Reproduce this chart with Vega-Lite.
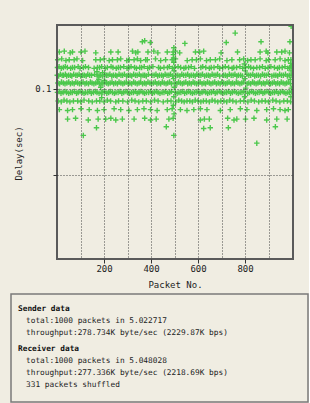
{
  "$schema": "https://vega.github.io/schema/vega-lite/v6.json",
  "background": "#f0ede2",
  "padding": {"left": 10, "top": 24, "right": 0, "bottom": 0},
  "spacing": 4,
  "config": {
    "view": {"stroke": null},
    "font": "DejaVu Sans Mono",
    "axis": {"labelFont": "DejaVu Sans Mono", "titleFont": "DejaVu Sans Mono", "labelFontSize": 9, "titleFontSize": 9, "titleFontWeight": "normal", "labelColor": "#222", "titleColor": "#222", "tickColor": "#333", "domain": false}
  },
  "datasets": {
    "pts": [
      {"n":996,"d":0.173},{"n":758,"d":0.165},{"n":363,"d":0.155},{"n":373,"d":0.156},{"n":397,"d":0.154},{"n":544,"d":0.153},{"n":720,"d":0.154},{"n":868,"d":0.155},{"n":991,"d":0.155},{"n":497,"d":0.148},
      {"n":10,"d":0.143},{"n":31,"d":0.144},{"n":56,"d":0.142},{"n":66,"d":0.143},{"n":102,"d":0.143},{"n":119,"d":0.144},{"n":165,"d":0.142},{"n":229,"d":0.143},{"n":260,"d":0.143},{"n":321,"d":0.144},{"n":335,"d":0.142},{"n":344,"d":0.143},{"n":387,"d":0.143},{"n":412,"d":0.144},{"n":429,"d":0.142},{"n":469,"d":0.143},{"n":494,"d":0.143},{"n":504,"d":0.144},{"n":522,"d":0.142},{"n":589,"d":0.143},{"n":607,"d":0.143},{"n":624,"d":0.144},{"n":698,"d":0.142},{"n":768,"d":0.143},{"n":864,"d":0.143},{"n":890,"d":0.144},{"n":897,"d":0.142},{"n":935,"d":0.143},{"n":956,"d":0.143},{"n":970,"d":0.144},{"n":989,"d":0.142},
      {"n":3,"d":0.134},{"n":20,"d":0.135},{"n":38,"d":0.133},{"n":52,"d":0.134},{"n":73,"d":0.134},{"n":85,"d":0.135},{"n":109,"d":0.133},{"n":165,"d":0.134},{"n":184,"d":0.134},{"n":200,"d":0.135},{"n":222,"d":0.133},{"n":236,"d":0.134},{"n":257,"d":0.134},{"n":271,"d":0.135},{"n":297,"d":0.133},{"n":307,"d":0.134},{"n":328,"d":0.134},{"n":342,"d":0.135},{"n":356,"d":0.133},{"n":377,"d":0.134},{"n":384,"d":0.134},{"n":419,"d":0.135},{"n":441,"d":0.133},{"n":462,"d":0.134},{"n":490,"d":0.134},{"n":504,"d":0.135},{"n":554,"d":0.133},{"n":575,"d":0.134},{"n":593,"d":0.134},{"n":610,"d":0.135},{"n":636,"d":0.133},{"n":652,"d":0.134},{"n":674,"d":0.134},{"n":692,"d":0.135},{"n":723,"d":0.133},{"n":744,"d":0.134},{"n":777,"d":0.134},{"n":794,"d":0.135},{"n":811,"d":0.133},{"n":825,"d":0.134},{"n":843,"d":0.134},{"n":864,"d":0.135},{"n":890,"d":0.133},{"n":900,"d":0.134},{"n":928,"d":0.134},{"n":949,"d":0.135},{"n":970,"d":0.133},{"n":984,"d":0.134},{"n":995,"d":0.134},
      {"n":2,"d":0.125},{"n":9,"d":0.126},{"n":18,"d":0.124},{"n":27,"d":0.125},{"n":35,"d":0.126},{"n":44,"d":0.125},{"n":58,"d":0.124},{"n":66,"d":0.125},{"n":75,"d":0.125},{"n":90,"d":0.126},{"n":98,"d":0.124},{"n":112,"d":0.125},{"n":121,"d":0.126},{"n":134,"d":0.125},{"n":158,"d":0.124},{"n":172,"d":0.125},{"n":181,"d":0.125},{"n":190,"d":0.126},{"n":205,"d":0.124},{"n":214,"d":0.125},{"n":230,"d":0.126},{"n":238,"d":0.125},{"n":252,"d":0.124},{"n":261,"d":0.125},{"n":270,"d":0.125},{"n":284,"d":0.126},{"n":298,"d":0.124},{"n":306,"d":0.125},{"n":315,"d":0.126},{"n":330,"d":0.125},{"n":338,"d":0.124},{"n":352,"d":0.125},{"n":360,"d":0.125},{"n":371,"d":0.126},{"n":386,"d":0.124},{"n":394,"d":0.125},{"n":408,"d":0.126},{"n":432,"d":0.125},{"n":440,"d":0.124},{"n":455,"d":0.125},{"n":470,"d":0.125},{"n":478,"d":0.126},{"n":491,"d":0.124},{"n":500,"d":0.125},{"n":515,"d":0.126},{"n":526,"d":0.125},{"n":540,"d":0.124},{"n":548,"d":0.125},{"n":560,"d":0.125},{"n":571,"d":0.126},{"n":585,"d":0.124},{"n":612,"d":0.125},{"n":620,"d":0.126},{"n":633,"d":0.125},{"n":648,"d":0.124},{"n":656,"d":0.125},{"n":668,"d":0.125},{"n":684,"d":0.126},{"n":692,"d":0.124},{"n":705,"d":0.125},{"n":716,"d":0.126},{"n":730,"d":0.125},{"n":745,"d":0.124},{"n":752,"d":0.125},{"n":764,"d":0.125},{"n":778,"d":0.126},{"n":790,"d":0.124},{"n":802,"d":0.125},{"n":815,"d":0.126},{"n":824,"d":0.125},{"n":836,"d":0.124},{"n":850,"d":0.125},{"n":862,"d":0.125},{"n":874,"d":0.126},{"n":886,"d":0.124},{"n":898,"d":0.125},{"n":910,"d":0.126},{"n":925,"d":0.125},{"n":938,"d":0.124},{"n":946,"d":0.125},{"n":958,"d":0.125},{"n":970,"d":0.126},{"n":982,"d":0.124},{"n":990,"d":0.125},{"n":997,"d":0.126},
      {"n":1,"d":0.116},{"n":7,"d":0.115},{"n":14,"d":0.117},{"n":22,"d":0.116},{"n":28,"d":0.116},{"n":36,"d":0.117},{"n":41,"d":0.115},{"n":49,"d":0.116},{"n":57,"d":0.116},{"n":63,"d":0.115},{"n":71,"d":0.117},{"n":80,"d":0.116},{"n":86,"d":0.116},{"n":94,"d":0.117},{"n":101,"d":0.115},{"n":109,"d":0.116},{"n":116,"d":0.116},{"n":124,"d":0.115},{"n":131,"d":0.117},{"n":139,"d":0.116},{"n":147,"d":0.116},{"n":160,"d":0.117},{"n":171,"d":0.115},{"n":179,"d":0.116},{"n":186,"d":0.116},{"n":194,"d":0.115},{"n":203,"d":0.117},{"n":210,"d":0.116},{"n":217,"d":0.116},{"n":225,"d":0.117},{"n":233,"d":0.115},{"n":240,"d":0.116},{"n":249,"d":0.116},{"n":255,"d":0.115},{"n":264,"d":0.117},{"n":272,"d":0.116},{"n":279,"d":0.116},{"n":287,"d":0.117},{"n":296,"d":0.115},{"n":303,"d":0.116},{"n":311,"d":0.116},{"n":318,"d":0.115},{"n":326,"d":0.117},{"n":334,"d":0.116},{"n":341,"d":0.116},{"n":350,"d":0.117},{"n":357,"d":0.115},{"n":366,"d":0.116},{"n":373,"d":0.116},{"n":380,"d":0.115},{"n":389,"d":0.117},{"n":404,"d":0.116},{"n":413,"d":0.116},{"n":421,"d":0.117},{"n":428,"d":0.115},{"n":436,"d":0.116},{"n":445,"d":0.116},{"n":452,"d":0.115},{"n":460,"d":0.117},{"n":468,"d":0.116},{"n":476,"d":0.116},{"n":483,"d":0.117},{"n":492,"d":0.115},{"n":506,"d":0.116},{"n":514,"d":0.116},{"n":523,"d":0.115},{"n":531,"d":0.117},{"n":539,"d":0.116},{"n":548,"d":0.116},{"n":556,"d":0.117},{"n":563,"d":0.115},{"n":571,"d":0.116},{"n":580,"d":0.116},{"n":588,"d":0.115},{"n":595,"d":0.117},{"n":604,"d":0.116},{"n":612,"d":0.116},{"n":619,"d":0.117},{"n":628,"d":0.115},{"n":636,"d":0.116},{"n":644,"d":0.116},{"n":651,"d":0.115},{"n":660,"d":0.117},{"n":668,"d":0.116},{"n":676,"d":0.116},{"n":683,"d":0.117},{"n":692,"d":0.115},{"n":708,"d":0.116},{"n":716,"d":0.116},{"n":724,"d":0.115},{"n":733,"d":0.117},{"n":741,"d":0.116},{"n":749,"d":0.116},{"n":757,"d":0.117},{"n":765,"d":0.115},{"n":772,"d":0.116},{"n":781,"d":0.116},{"n":789,"d":0.115},{"n":808,"d":0.117},{"n":816,"d":0.116},{"n":824,"d":0.116},{"n":833,"d":0.117},{"n":841,"d":0.115},{"n":849,"d":0.116},{"n":857,"d":0.116},{"n":866,"d":0.115},{"n":874,"d":0.117},{"n":882,"d":0.116},{"n":890,"d":0.116},{"n":899,"d":0.117},{"n":914,"d":0.115},{"n":923,"d":0.116},{"n":931,"d":0.116},{"n":939,"d":0.115},{"n":947,"d":0.117},{"n":955,"d":0.116},{"n":963,"d":0.116},{"n":972,"d":0.117},{"n":980,"d":0.115},{"n":988,"d":0.116},{"n":996,"d":0.116},
      {"n":4,"d":0.107},{"n":11,"d":0.106},{"n":19,"d":0.108},{"n":27,"d":0.107},{"n":34,"d":0.106},{"n":42,"d":0.107},{"n":50,"d":0.108},{"n":57,"d":0.106},{"n":65,"d":0.107},{"n":73,"d":0.106},{"n":80,"d":0.108},{"n":88,"d":0.107},{"n":96,"d":0.106},{"n":103,"d":0.107},{"n":111,"d":0.108},{"n":119,"d":0.106},{"n":126,"d":0.107},{"n":134,"d":0.106},{"n":142,"d":0.108},{"n":149,"d":0.107},{"n":157,"d":0.106},{"n":165,"d":0.107},{"n":172,"d":0.108},{"n":180,"d":0.106},{"n":188,"d":0.107},{"n":195,"d":0.106},{"n":203,"d":0.108},{"n":211,"d":0.107},{"n":218,"d":0.106},{"n":226,"d":0.107},{"n":234,"d":0.108},{"n":241,"d":0.106},{"n":249,"d":0.107},{"n":257,"d":0.106},{"n":264,"d":0.108},{"n":272,"d":0.107},{"n":280,"d":0.106},{"n":287,"d":0.107},{"n":295,"d":0.108},{"n":303,"d":0.106},{"n":310,"d":0.107},{"n":318,"d":0.106},{"n":326,"d":0.108},{"n":333,"d":0.107},{"n":341,"d":0.106},{"n":349,"d":0.107},{"n":356,"d":0.108},{"n":364,"d":0.106},{"n":372,"d":0.107},{"n":379,"d":0.106},{"n":387,"d":0.108},{"n":395,"d":0.107},{"n":402,"d":0.106},{"n":410,"d":0.107},{"n":418,"d":0.108},{"n":425,"d":0.106},{"n":433,"d":0.107},{"n":441,"d":0.106},{"n":448,"d":0.108},{"n":456,"d":0.107},{"n":464,"d":0.106},{"n":471,"d":0.107},{"n":479,"d":0.108},{"n":487,"d":0.106},{"n":502,"d":0.107},{"n":510,"d":0.106},{"n":517,"d":0.108},{"n":525,"d":0.107},{"n":533,"d":0.106},{"n":540,"d":0.107},{"n":548,"d":0.108},{"n":556,"d":0.106},{"n":563,"d":0.107},{"n":571,"d":0.106},{"n":579,"d":0.108},{"n":586,"d":0.107},{"n":594,"d":0.106},{"n":602,"d":0.107},{"n":609,"d":0.108},{"n":617,"d":0.106},{"n":625,"d":0.107},{"n":632,"d":0.106},{"n":640,"d":0.108},{"n":648,"d":0.107},{"n":655,"d":0.106},{"n":663,"d":0.107},{"n":671,"d":0.108},{"n":678,"d":0.106},{"n":686,"d":0.107},{"n":694,"d":0.106},{"n":701,"d":0.108},{"n":709,"d":0.107},{"n":717,"d":0.106},{"n":724,"d":0.107},{"n":732,"d":0.108},{"n":740,"d":0.106},{"n":747,"d":0.107},{"n":755,"d":0.106},{"n":763,"d":0.108},{"n":770,"d":0.107},{"n":778,"d":0.106},{"n":786,"d":0.107},{"n":793,"d":0.108},{"n":809,"d":0.106},{"n":816,"d":0.107},{"n":824,"d":0.106},{"n":832,"d":0.108},{"n":839,"d":0.107},{"n":847,"d":0.106},{"n":855,"d":0.107},{"n":862,"d":0.108},{"n":870,"d":0.106},{"n":878,"d":0.107},{"n":885,"d":0.106},{"n":893,"d":0.108},{"n":901,"d":0.107},{"n":908,"d":0.106},{"n":916,"d":0.107},{"n":924,"d":0.108},{"n":931,"d":0.106},{"n":939,"d":0.107},{"n":947,"d":0.106},{"n":954,"d":0.108},{"n":962,"d":0.107},{"n":970,"d":0.106},{"n":977,"d":0.107},{"n":985,"d":0.108},{"n":993,"d":0.106},
      {"n":2,"d":0.096},{"n":10,"d":0.097},{"n":17,"d":0.095},{"n":26,"d":0.096},{"n":34,"d":0.097},{"n":41,"d":0.096},{"n":50,"d":0.095},{"n":58,"d":0.096},{"n":65,"d":0.096},{"n":74,"d":0.097},{"n":83,"d":0.095},{"n":90,"d":0.096},{"n":98,"d":0.097},{"n":107,"d":0.096},{"n":115,"d":0.095},{"n":122,"d":0.096},{"n":131,"d":0.096},{"n":139,"d":0.097},{"n":146,"d":0.095},{"n":155,"d":0.096},{"n":163,"d":0.097},{"n":170,"d":0.096},{"n":179,"d":0.095},{"n":188,"d":0.096},{"n":195,"d":0.096},{"n":203,"d":0.097},{"n":212,"d":0.095},{"n":220,"d":0.096},{"n":227,"d":0.097},{"n":236,"d":0.096},{"n":244,"d":0.095},{"n":251,"d":0.096},{"n":260,"d":0.096},{"n":268,"d":0.097},{"n":276,"d":0.095},{"n":284,"d":0.096},{"n":293,"d":0.097},{"n":300,"d":0.096},{"n":309,"d":0.095},{"n":317,"d":0.096},{"n":325,"d":0.096},{"n":333,"d":0.097},{"n":341,"d":0.095},{"n":349,"d":0.096},{"n":357,"d":0.097},{"n":366,"d":0.096},{"n":373,"d":0.095},{"n":381,"d":0.096},{"n":390,"d":0.096},{"n":398,"d":0.097},{"n":406,"d":0.095},{"n":414,"d":0.096},{"n":422,"d":0.097},{"n":430,"d":0.096},{"n":438,"d":0.095},{"n":447,"d":0.096},{"n":455,"d":0.096},{"n":462,"d":0.097},{"n":471,"d":0.095},{"n":479,"d":0.096},{"n":487,"d":0.097},{"n":503,"d":0.096},{"n":511,"d":0.095},{"n":519,"d":0.096},{"n":527,"d":0.096},{"n":535,"d":0.097},{"n":543,"d":0.095},{"n":552,"d":0.096},{"n":560,"d":0.097},{"n":568,"d":0.096},{"n":576,"d":0.095},{"n":584,"d":0.096},{"n":592,"d":0.096},{"n":600,"d":0.097},{"n":608,"d":0.095},{"n":617,"d":0.096},{"n":625,"d":0.097},{"n":633,"d":0.096},{"n":641,"d":0.095},{"n":649,"d":0.096},{"n":657,"d":0.096},{"n":665,"d":0.097},{"n":673,"d":0.095},{"n":681,"d":0.096},{"n":690,"d":0.097},{"n":698,"d":0.096},{"n":706,"d":0.095},{"n":714,"d":0.096},{"n":722,"d":0.096},{"n":730,"d":0.097},{"n":738,"d":0.095},{"n":746,"d":0.096},{"n":754,"d":0.097},{"n":763,"d":0.096},{"n":771,"d":0.095},{"n":779,"d":0.096},{"n":787,"d":0.096},{"n":795,"d":0.097},{"n":811,"d":0.095},{"n":819,"d":0.096},{"n":828,"d":0.097},{"n":836,"d":0.096},{"n":844,"d":0.095},{"n":852,"d":0.096},{"n":860,"d":0.096},{"n":868,"d":0.097},{"n":876,"d":0.095},{"n":884,"d":0.096},{"n":893,"d":0.097},{"n":901,"d":0.096},{"n":909,"d":0.095},{"n":917,"d":0.096},{"n":925,"d":0.096},{"n":933,"d":0.097},{"n":941,"d":0.095},{"n":950,"d":0.096},{"n":958,"d":0.097},{"n":966,"d":0.096},{"n":974,"d":0.095},{"n":982,"d":0.096},{"n":990,"d":0.096},{"n":998,"d":0.097},
      {"n":5,"d":0.086},{"n":18,"d":0.085},{"n":30,"d":0.087},{"n":42,"d":0.086},{"n":55,"d":0.085},{"n":70,"d":0.086},{"n":88,"d":0.086},{"n":101,"d":0.085},{"n":115,"d":0.087},{"n":135,"d":0.086},{"n":150,"d":0.085},{"n":168,"d":0.086},{"n":182,"d":0.086},{"n":200,"d":0.085},{"n":214,"d":0.087},{"n":228,"d":0.086},{"n":250,"d":0.085},{"n":262,"d":0.086},{"n":280,"d":0.086},{"n":300,"d":0.085},{"n":318,"d":0.087},{"n":332,"d":0.086},{"n":348,"d":0.085},{"n":365,"d":0.086},{"n":380,"d":0.086},{"n":398,"d":0.085},{"n":415,"d":0.087},{"n":430,"d":0.086},{"n":452,"d":0.085},{"n":470,"d":0.086},{"n":485,"d":0.086},{"n":505,"d":0.085},{"n":518,"d":0.087},{"n":530,"d":0.086},{"n":541,"d":0.085},{"n":553,"d":0.086},{"n":565,"d":0.086},{"n":576,"d":0.085},{"n":588,"d":0.087},{"n":600,"d":0.086},{"n":612,"d":0.085},{"n":623,"d":0.086},{"n":635,"d":0.086},{"n":648,"d":0.085},{"n":660,"d":0.087},{"n":672,"d":0.086},{"n":684,"d":0.085},{"n":697,"d":0.086},{"n":710,"d":0.086},{"n":722,"d":0.085},{"n":735,"d":0.087},{"n":748,"d":0.086},{"n":762,"d":0.085},{"n":780,"d":0.086},{"n":795,"d":0.086},{"n":812,"d":0.085},{"n":826,"d":0.087},{"n":840,"d":0.086},{"n":858,"d":0.085},{"n":872,"d":0.086},{"n":886,"d":0.086},{"n":900,"d":0.085},{"n":918,"d":0.087},{"n":932,"d":0.086},{"n":948,"d":0.085},{"n":965,"d":0.086},{"n":980,"d":0.086},{"n":994,"d":0.085},
      {"n":10,"d":0.076},{"n":45,"d":0.075},{"n":66,"d":0.076},{"n":102,"d":0.077},{"n":137,"d":0.076},{"n":172,"d":0.075},{"n":200,"d":0.076},{"n":243,"d":0.077},{"n":271,"d":0.076},{"n":306,"d":0.075},{"n":342,"d":0.076},{"n":370,"d":0.077},{"n":398,"d":0.076},{"n":426,"d":0.075},{"n":469,"d":0.076},{"n":490,"d":0.077},{"n":525,"d":0.076},{"n":553,"d":0.075},{"n":582,"d":0.076},{"n":610,"d":0.077},{"n":638,"d":0.076},{"n":695,"d":0.075},{"n":737,"d":0.076},{"n":780,"d":0.077},{"n":808,"d":0.076},{"n":850,"d":0.075},{"n":892,"d":0.076},{"n":921,"d":0.077},{"n":949,"d":0.076},{"n":970,"d":0.075},{"n":984,"d":0.076},
      {"n":45,"d":0.065},{"n":79,"d":0.066},{"n":133,"d":0.064},{"n":175,"d":0.065},{"n":207,"d":0.065},{"n":229,"d":0.066},{"n":250,"d":0.064},{"n":278,"d":0.065},{"n":328,"d":0.065},{"n":373,"d":0.066},{"n":398,"d":0.064},{"n":422,"d":0.065},{"n":476,"d":0.065},{"n":494,"d":0.066},{"n":610,"d":0.064},{"n":627,"d":0.065},{"n":648,"d":0.065},{"n":726,"d":0.066},{"n":753,"d":0.064},{"n":765,"d":0.065},{"n":802,"d":0.065},{"n":838,"d":0.066},{"n":892,"d":0.064},{"n":935,"d":0.065},{"n":979,"d":0.065},
      {"n":168,"d":0.055},{"n":465,"d":0.056},{"n":624,"d":0.054},{"n":652,"d":0.055},{"n":729,"d":0.055},{"n":929,"d":0.056},
      {"n":112,"d":0.046},{"n":497,"d":0.046},{"n":850,"d":0.037},
      {"n":495,"d":0.140},{"n":496,"d":0.136},{"n":497,"d":0.131},{"n":498,"d":0.121},{"n":496,"d":0.112},{"n":499,"d":0.102},{"n":497,"d":0.091},{"n":495,"d":0.081},{"n":498,"d":0.071},
      {"n":797,"d":0.129},{"n":801,"d":0.121},{"n":799,"d":0.112},{"n":803,"d":0.101},{"n":798,"d":0.091},
      {"n":994,"d":0.130},{"n":996,"d":0.121},{"n":993,"d":0.111},{"n":997,"d":0.101},{"n":995,"d":0.091},
      {"n":170,"d":0.120},{"n":178,"d":0.111},{"n":186,"d":0.102},{"n":194,"d":0.119},{"n":202,"d":0.110},{"n":190,"d":0.090}
    ],
    "frame": [{"x0": 0, "x1": 1004, "y0": -0.0977, "y1": 0.1744}],
    "txt": [
      {"sec":1,"line":1,"head":true,"text":"Sender data"},
      {"sec":1,"line":2,"head":false,"text":"total:1000 packets in 5.022717"},
      {"sec":1,"line":3,"head":false,"text":"throughput:278.734K byte/sec (2229.87K bps)"},
      {"sec":2,"line":4,"head":true,"text":"Receiver data"},
      {"sec":2,"line":5,"head":false,"text":"total:1000 packets in 5.048028"},
      {"sec":2,"line":6,"head":false,"text":"throughput:277.336K byte/sec (2218.69K bps)"},
      {"sec":2,"line":7,"head":false,"text":"331 packets shuffled"}
    ]
  },
  "vconcat": [
    {
      "width": 282,
      "height": 234,
      "resolve": {"axis": {"x": "independent", "y": "independent"}},
      "layer": [
        {
          "data": {"name": "pts"},
          "mark": {"type": "point", "shape": "M-1,0H1M0,-1V1", "size": 30, "filled": false, "stroke": "#4cc84c", "strokeWidth": 1.4, "opacity": 1, "clip": true},
          "encoding": {
            "x": {"field": "n", "type": "quantitative", "scale": {"domain": [0, 1004], "range": [46, 282], "nice": false, "zero": false},
              "axis": {"title": "Packet No.", "values": [100,200,300,400,500,600,700,800,900],
                "labelExpr": "datum.value % 200 == 0 ? datum.label : ''",
                "tickOpacity": {"condition": {"test": "datum.value % 200 == 0", "value": 1}, "value": 0},
                "grid": true, "gridDash": [1,2], "gridColor": "#444", "gridOpacity": 1, "gridWidth": 1,
                "tickSize": 4, "labelPadding": 1, "titlePadding": 7, "titleX": 164, "zindex": 1, "labelFlush": false, "labelOverlap": false}},
            "y": {"field": "d", "type": "quantitative", "scale": {"domain": [-0.0977, 0.1744], "nice": false, "zero": false},
              "axis": {"title": "Delay(sec)", "values": [0, 0.1], "offset": -46,
                "labelExpr": "datum.value == 0.1 ? '0.1' : ''",
                "grid": true, "gridDash": [1,2], "gridColor": "#444", "gridOpacity": 1, "gridWidth": 1,
                "tickSize": 4, "labelPadding": 2, "titlePadding": 11, "titleY": 128, "zindex": 1}}
          }
        },
        {
          "data": {"name": "frame"},
          "mark": {"type": "rect", "fill": "transparent", "stroke": "#5a5a5a", "strokeWidth": 2},
          "encoding": {
            "x": {"field": "x0", "type": "quantitative", "axis": null},
            "x2": {"field": "x1"},
            "y": {"field": "y0", "type": "quantitative", "axis": null},
            "y2": {"field": "y1"}
          }
        }
      ]
    },
    {
      "width": 297,
      "height": 108,
      "view": {"stroke": "#7a7a7a", "strokeWidth": 1.5},
      "data": {"name": "txt"},
      "encoding": {
        "y": {"field": "line", "type": "quantitative", "scale": {"domain": [-0.286, 8.79], "reverse": true, "nice": false, "zero": false}, "axis": null},
        "text": {"field": "text"}
      },
      "layer": [
        {"transform": [{"filter": "datum.sec == 1 && datum.head"}], "mark": {"type": "text", "align": "left", "baseline": "middle", "x": 7, "font": "DejaVu Sans Mono", "fontSize": 7.8, "fontWeight": "bold", "color": "#111"}},
        {"transform": [{"filter": "datum.sec == 1 && !datum.head"}], "mark": {"type": "text", "align": "left", "baseline": "middle", "x": 15, "font": "DejaVu Sans Mono", "fontSize": 7.8, "color": "#222"}},
        {"transform": [{"filter": "datum.sec == 2 && datum.head"}], "mark": {"type": "text", "align": "left", "baseline": "middle", "x": 7, "dy": 4.3, "font": "DejaVu Sans Mono", "fontSize": 7.8, "fontWeight": "bold", "color": "#111"}},
        {"transform": [{"filter": "datum.sec == 2 && !datum.head"}], "mark": {"type": "text", "align": "left", "baseline": "middle", "x": 15, "dy": 4.3, "font": "DejaVu Sans Mono", "fontSize": 7.8, "color": "#222"}}
      ]
    }
  ]
}
